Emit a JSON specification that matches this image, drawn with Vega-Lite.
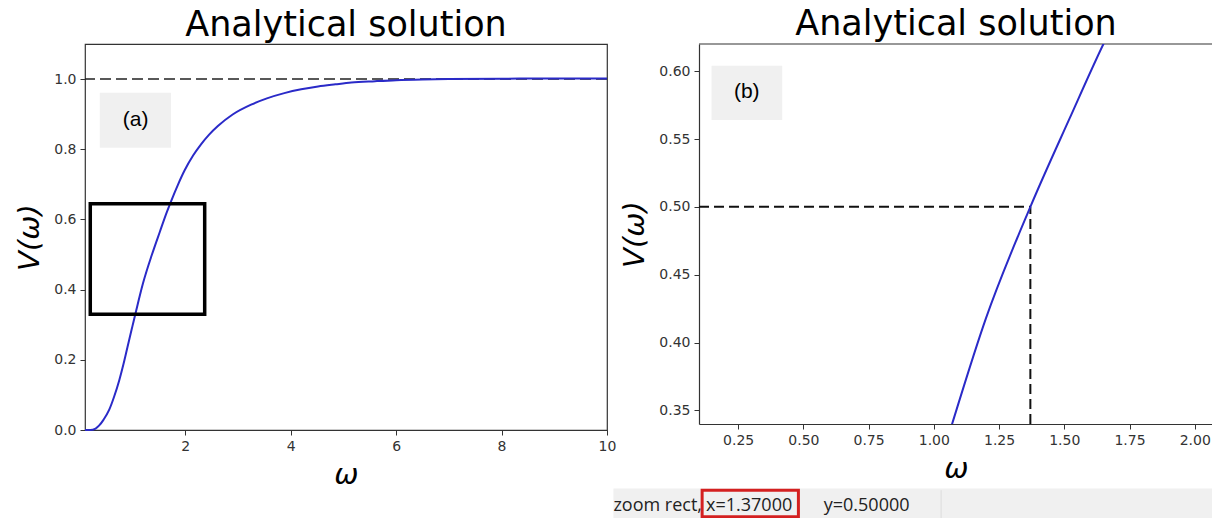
{
  "$schema": "https://vega.github.io/schema/vega-lite/v6.json",
  "padding": {"left": 15, "top": 7, "right": 0, "bottom": 0},
  "background": "white",
  "datasets": {
    "curve": [
      {"w": 0.10, "V": 0.000}, {"w": 0.20, "V": 0.000}, {"w": 0.30, "V": 0.004},
      {"w": 0.37, "V": 0.013}, {"w": 0.45, "V": 0.029}, {"w": 0.56, "V": 0.058},
      {"w": 0.65, "V": 0.094}, {"w": 0.75, "V": 0.142}, {"w": 0.83, "V": 0.188},
      {"w": 0.905, "V": 0.236}, {"w": 1.00, "V": 0.296}, {"w": 1.07, "V": 0.340},
      {"w": 1.20, "V": 0.418}, {"w": 1.37, "V": 0.500}, {"w": 1.52, "V": 0.565},
      {"w": 1.65, "V": 0.620}, {"w": 1.73, "V": 0.651}, {"w": 1.86, "V": 0.698},
      {"w": 1.99, "V": 0.740}, {"w": 2.15, "V": 0.782}, {"w": 2.30, "V": 0.814},
      {"w": 2.45, "V": 0.841}, {"w": 2.62, "V": 0.866}, {"w": 2.90, "V": 0.899},
      {"w": 3.25, "V": 0.927}, {"w": 3.55, "V": 0.945}, {"w": 3.88, "V": 0.960},
      {"w": 4.20, "V": 0.971}, {"w": 4.52, "V": 0.979}, {"w": 4.85, "V": 0.985},
      {"w": 5.15, "V": 0.990}, {"w": 5.60, "V": 0.994}, {"w": 6.00, "V": 0.997},
      {"w": 6.50, "V": 0.999}, {"w": 7.00, "V": 1.000}, {"w": 8.00, "V": 1.001},
      {"w": 9.00, "V": 1.002}, {"w": 10.00, "V": 1.002}
    ]
  },
  "spacing": 92,
  "bounds": "flush",
  "hconcat": [
    {
      "width": 522,
      "height": 386,
      "title": {"text": "Analytical solution", "fontSize": 35, "font": "DejaVu Sans", "fontWeight": "normal", "color": "black", "offset": 1},
      "view": {"stroke": "#333", "strokeWidth": 1.2},
      "layer": [
        {
          "data": {"values": [{"label": "(a)"}]},
          "mark": {"type": "rect", "fill": "#f0f0f0"},
          "encoding": {
            "x": {"datum": 0.38, "type": "quantitative"},
            "x2": {"datum": 1.73},
            "y": {"datum": 0.804, "type": "quantitative"},
            "y2": {"datum": 0.961}
          }
        },
        {
          "data": {"values": [{"label": "(a)"}]},
          "mark": {"type": "text", "font": "Liberation Sans", "fontSize": 21, "color": "black", "align": "center", "baseline": "middle"},
          "encoding": {
            "x": {"datum": 1.06, "type": "quantitative"},
            "y": {"datum": 0.882, "type": "quantitative"},
            "text": {"field": "label"}
          }
        },
        {
          "data": {"values": [{"level": 1}]},
          "mark": {"type": "rule", "color": "#222", "strokeWidth": 1.5, "strokeDash": [11, 5]},
          "encoding": {"y": {"field": "level", "type": "quantitative"}}
        },
        {
          "data": {"name": "curve"},
          "mark": {"type": "line", "color": "#2a2ac8", "strokeWidth": 2, "interpolate": "monotone"},
          "encoding": {
            "x": {"field": "w", "type": "quantitative",
                  "scale": {"domain": [0.1, 10], "nice": false, "zero": false},
                  "axis": {"values": [2, 4, 6, 8, 10], "format": "d", "title": "ω", "domain": false}},
            "y": {"field": "V", "type": "quantitative",
                  "scale": {"domain": [0, 1.1], "nice": false},
                  "axis": {"values": [0, 0.2, 0.4, 0.6, 0.8, 1.0], "format": ".1f", "title": "V(ω)", "domain": false}}
          }
        },
        {
          "data": {"values": [{"label": "zoom box"}]},
          "mark": {"type": "rect", "fill": null, "fillOpacity": 0, "stroke": "black", "strokeWidth": 3.5},
          "encoding": {
            "x": {"datum": 0.2, "type": "quantitative"},
            "x2": {"datum": 2.37},
            "y": {"datum": 0.33, "type": "quantitative"},
            "y2": {"datum": 0.645}
          }
        }
      ]
    },
    {
      "width": 514,
      "height": 380,
      "title": {"text": "Analytical solution", "fontSize": 35, "font": "DejaVu Sans", "fontWeight": "normal", "color": "black", "offset": 1},
      "view": {"stroke": null},
      "layer": [
        {
          "data": {"values": [{"label": "(b)"}]},
          "mark": {"type": "rect", "fill": "#f0f0f0"},
          "encoding": {
            "x": {"datum": 0.148, "type": "quantitative"},
            "x2": {"datum": 0.419},
            "y": {"datum": 0.564, "type": "quantitative"},
            "y2": {"datum": 0.604}
          }
        },
        {
          "data": {"values": [{"label": "(b)"}]},
          "mark": {"type": "text", "font": "Liberation Sans", "fontSize": 21, "color": "black", "align": "center", "baseline": "middle"},
          "encoding": {
            "x": {"datum": 0.283, "type": "quantitative"},
            "y": {"datum": 0.5845, "type": "quantitative"},
            "text": {"field": "label"}
          }
        },
        {
          "data": {"values": [{"label": "top frame"}]},
          "mark": {"type": "rule", "color": "#333", "strokeWidth": 1.2},
          "encoding": {"y": {"datum": 0.62, "type": "quantitative"}}
        },
        {
          "data": {"values": [{"x0": 0.1, "x1": 1.37, "y0": 0.5}]},
          "mark": {"type": "rule", "color": "#111", "strokeWidth": 2, "strokeDash": [10, 5]},
          "encoding": {
            "x": {"field": "x0", "type": "quantitative"},
            "x2": {"field": "x1"},
            "y": {"field": "y0", "type": "quantitative"}
          }
        },
        {
          "data": {"values": [{"x0": 1.37, "y0": 0.34, "y1": 0.5}]},
          "mark": {"type": "rule", "color": "#111", "strokeWidth": 2, "strokeDash": [10, 5]},
          "encoding": {
            "x": {"field": "x0", "type": "quantitative"},
            "y": {"field": "y0", "type": "quantitative"},
            "y2": {"field": "y1"}
          }
        },
        {
          "data": {"name": "curve"},
          "mark": {"type": "line", "color": "#2a2ac8", "strokeWidth": 2, "interpolate": "monotone", "clip": true},
          "encoding": {
            "x": {"field": "w", "type": "quantitative",
                  "scale": {"domain": [0.1, 2.07], "nice": false, "zero": false},
                  "axis": {"values": [0.25, 0.5, 0.75, 1.0, 1.25, 1.5, 1.75, 2.0], "format": ".2f", "title": "ω", "domain": true}},
            "y": {"field": "V", "type": "quantitative",
                  "scale": {"domain": [0.34, 0.62], "nice": false, "zero": false},
                  "axis": {"values": [0.35, 0.4, 0.45, 0.5, 0.55, 0.6], "format": ".2f", "title": "V(ω)", "domain": true}}
          }
        },
        {
          "data": {"values": [{"label": "status bar"}]},
          "mark": {"type": "rect", "fill": "#f0f0f0"},
          "encoding": {
            "x": {"datum": -0.228, "type": "quantitative"},
            "x2": {"datum": 2.07},
            "y": {"datum": 0.2925, "type": "quantitative"},
            "y2": {"datum": 0.2706}
          }
        },
        {
          "data": {"values": [{"label": "separator"}]},
          "mark": {"type": "rule", "color": "#dcdcdc", "strokeWidth": 1},
          "encoding": {
            "x": {"datum": 1.028, "type": "quantitative"},
            "y": {"datum": 0.2912, "type": "quantitative"},
            "y2": {"datum": 0.2706}
          }
        },
        {
          "data": {"values": [{"label": "zoom rect,"}]},
          "mark": {"type": "text", "font": "Open Sans", "fontSize": 18, "color": "#222", "align": "left", "baseline": "alphabetic"},
          "encoding": {
            "x": {"datum": -0.228, "type": "quantitative"},
            "y": {"datum": 0.2757, "type": "quantitative"},
            "text": {"field": "label"}
          }
        },
        {
          "data": {"values": [{"label": "x=1.37000"}]},
          "mark": {"type": "text", "font": "Open Sans", "fontSize": 18, "color": "#222", "align": "left", "baseline": "alphabetic"},
          "encoding": {
            "x": {"datum": 0.127, "type": "quantitative"},
            "y": {"datum": 0.2757, "type": "quantitative"},
            "text": {"field": "label"}
          }
        },
        {
          "data": {"values": [{"label": "y=0.50000"}]},
          "mark": {"type": "text", "font": "Open Sans", "fontSize": 18, "color": "#222", "align": "left", "baseline": "alphabetic"},
          "encoding": {
            "x": {"datum": 0.578, "type": "quantitative"},
            "y": {"datum": 0.2757, "type": "quantitative"},
            "text": {"field": "label"}
          }
        },
        {
          "data": {"values": [{"label": "highlight"}]},
          "mark": {"type": "rect", "fill": null, "fillOpacity": 0, "stroke": "#d42020", "strokeWidth": 3},
          "encoding": {
            "x": {"datum": 0.112, "type": "quantitative"},
            "x2": {"datum": 0.481},
            "y": {"datum": 0.2912, "type": "quantitative"},
            "y2": {"datum": 0.2716}
          }
        }
      ]
    }
  ],
  "config": {
    "font": "DejaVu Sans",
    "axis": {
      "grid": false,
      "domainColor": "#333",
      "domainWidth": 1.2,
      "tickColor": "#333",
      "tickSize": 5,
      "tickWidth": 1,
      "labelColor": "#333",
      "labelFont": "DejaVu Sans",
      "labelFontSize": 14,
      "labelPadding": 4,
      "labelFlush": false,
      "labelOverlap": false,
      "titleFont": "DejaVu Sans",
      "titleFontSize": 29,
      "titleFontStyle": "italic",
      "titleFontWeight": "normal",
      "titleColor": "black"
    },
    "axisX": {"titlePadding": 7},
    "axisY": {"titlePadding": 9}
  }
}
